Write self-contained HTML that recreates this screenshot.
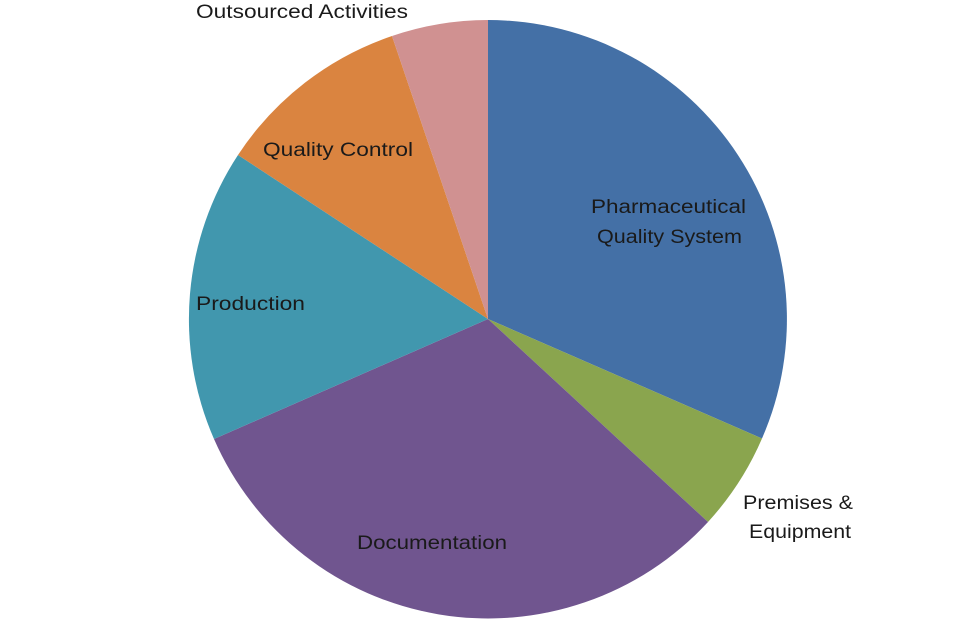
<!DOCTYPE html>
<html><head><meta charset="utf-8"><style>
html,body{margin:0;padding:0;background:#fff;}
svg{display:block;}
text{font-family:"Liberation Sans",sans-serif;font-size:19px;fill:#1a1a1a;}
</style></head><body>
<svg width="960" height="640" viewBox="0 0 960 640">
<g stroke="none">
<path d="M488,319 L488,20 A299,299 0 0 1 762,438.5 Z" fill="#4470a6"/>
<path d="M488,319 L762,438.5 A299,299 0 0 1 708,522 Z" fill="#8aa54e"/>
<path d="M488,319 L708,522 A299,299 0 0 1 214,439 Z" fill="#70558f"/>
<path d="M488,319 L214,439 A299,299 0 0 1 238,155 Z" fill="#4197ae"/>
<path d="M488,319 L238,155 A299,299 0 0 1 392,36 Z" fill="#da8440"/>
<path d="M488,319 L392,36 A299,299 0 0 1 488,20 Z" fill="#d09191"/>
</g>
<text x="196" y="18" textLength="212" lengthAdjust="spacingAndGlyphs">Outsourced Activities</text>
<text x="263" y="156" textLength="150" lengthAdjust="spacingAndGlyphs">Quality Control</text>
<text x="591" y="213" textLength="155" lengthAdjust="spacingAndGlyphs">Pharmaceutical</text>
<text x="597" y="243" textLength="145" lengthAdjust="spacingAndGlyphs">Quality System</text>
<text x="196" y="310" textLength="109" lengthAdjust="spacingAndGlyphs">Production</text>
<text x="357" y="549" textLength="150" lengthAdjust="spacingAndGlyphs">Documentation</text>
<text x="743" y="509" textLength="110" lengthAdjust="spacingAndGlyphs">Premises &amp;</text>
<text x="749" y="538" textLength="102" lengthAdjust="spacingAndGlyphs">Equipment</text>
</svg>
</body></html>
